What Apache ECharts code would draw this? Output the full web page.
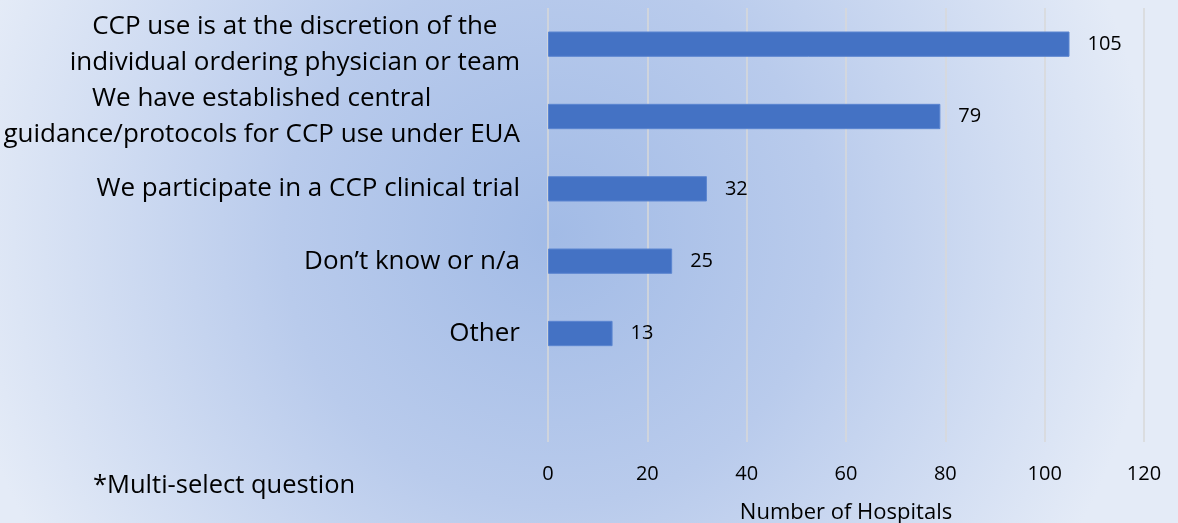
<!DOCTYPE html>
<html>
<head>
<meta charset="utf-8">
<script src="https://cdn.jsdelivr.net/npm/echarts@6/dist/echarts.min.js"></script>
<style>
html,body{margin:0;padding:0;}
#c{width:1178px;height:523px;}
</style>
</head>
<body>
<div id="c"></div>
<script>
// Categories (top to bottom); last one is an empty slot as in the reference
const categories = [
  "CCP use is at the discretion of the\nindividual ordering physician or team",
  "We have established central\nguidance/protocols for CCP use under EUA",
  "We participate in a CCP clinical trial",
  "Don\u2019t know or n/a",
  "Other",
  ""
];
const values = [105, 79, 32, 25, 13, null];
const xTicks = [0, 20, 40, 60, 80, 100, 120];
const axisName = "Number of Hospitals";
const note = "*Multi-select question";

const FONT = "Open Sans";
const chart = echarts.init(document.getElementById('c'));
chart.setOption({
  backgroundColor: {
    type: 'radial', x: 0.47, y: 0.45, r: 1.15,
    colorStops: [
      {offset: 0, color: '#a2bbe6'},
      {offset: 0.45, color: '#b9cbec'},
      {offset: 1, color: '#e4ebf7'}
    ]
  },
  textStyle: {fontFamily: FONT},
  grid: {left: 548, right: 34, top: 8, bottom: 81, containLabel: false, outerBoundsMode: 'none'},
  xAxis: {
    type: 'value', min: xTicks[0], max: xTicks[xTicks.length - 1], interval: 20,
    axisLine: {show: false}, axisTick: {show: false},
    splitLine: {show: true, lineStyle: {color: '#d9d9d9', width: 1.5}},
    axisLabel: {margin: 22, fontSize: 20, color: '#000', fontFamily: FONT},
    name: axisName, nameLocation: 'middle', nameGap: 60,
    nameTextStyle: {fontSize: 22, color: '#000', fontFamily: FONT}
  },
  yAxis: {
    type: 'category', data: categories, inverse: true,
    axisLine: {show: false}, axisTick: {show: false},
    axisLabel: {
      margin: 28, align: 'right', color: '#000',
      formatter: function (v) {
        return v.split('\n').map(function (l) { return '{c|' + l + '}'; }).join('\n');
      },
      rich: {c: {align: 'center', fontSize: 26, lineHeight: 36, color: '#000', fontFamily: FONT}}
    }
  },
  series: [{
    type: 'bar', data: values, barCategoryGap: '65%',
    itemStyle: {color: '#4472c4', borderColor: '#5b85d0', borderWidth: 1},
    label: {show: true, position: 'right', distance: 18, fontSize: 20, color: '#000', fontFamily: FONT},
    silent: true
  }],
  graphic: [{
    type: 'text', left: 93, top: 473,
    style: {text: note, fontSize: 25.5, fill: '#000', fontFamily: FONT}
  }]
});
</script>
</body>
</html>
